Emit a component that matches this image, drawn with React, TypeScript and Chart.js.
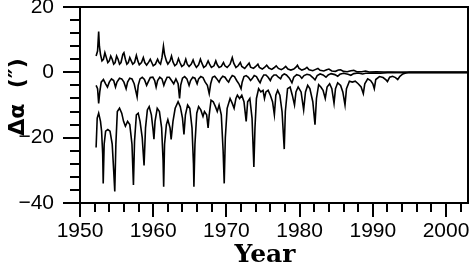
import React, { useEffect, useRef } from "react";
import { Chart, registerables } from "chart.js";

Chart.register(...registerables);

// [year, Δα in arcsec]
const topSeries: [number, number][] = [
  [1952.2, 5], [1952.4, 6.5], [1952.55, 12.5], [1952.65, 8], [1952.8, 5.5], [1953.0, 3.5], [1953.2, 4], [1953.4, 6],
  [1953.6, 4.5], [1953.8, 3], [1954.0, 3.5], [1954.2, 5], [1954.4, 4], [1954.6, 2.5], [1954.8, 3], [1955.0, 5],
  [1955.2, 4], [1955.4, 2.5], [1955.6, 3], [1955.85, 5.5], [1956.0, 6], [1956.2, 4], [1956.4, 2.5], [1956.6, 3],
  [1956.8, 4.5], [1957.0, 3.5], [1957.2, 2.5], [1957.45, 3], [1957.7, 5.2], [1957.9, 3.5], [1958.1, 2.3], [1958.4, 3],
  [1958.65, 4.5], [1958.85, 3], [1959.1, 2.2], [1959.4, 3.2], [1959.6, 4], [1959.8, 3], [1960.0, 2], [1960.3, 2.5],
  [1960.6, 4], [1960.8, 3], [1961.0, 2.5], [1961.2, 4.5], [1961.4, 8], [1961.55, 5.5], [1961.8, 3.5], [1962.0, 2.5],
  [1962.3, 3.5], [1962.5, 5], [1962.7, 3.2], [1962.95, 2], [1963.2, 2.5], [1963.45, 4.2], [1963.65, 3], [1963.9, 1.8],
  [1964.2, 2.3], [1964.45, 4], [1964.65, 2.5], [1964.9, 1.8], [1965.2, 2.5], [1965.45, 3.8], [1965.65, 2.5], [1965.9, 1.5],
  [1966.2, 2.3], [1966.45, 4], [1966.65, 2.8], [1966.9, 1.5], [1967.2, 2], [1967.5, 3.5], [1967.7, 2.5], [1967.95, 1.5],
  [1968.3, 2], [1968.55, 3.5], [1968.75, 2.3], [1969.0, 1.5], [1969.3, 1.8], [1969.6, 3], [1969.8, 2], [1970.1, 1.5],
  [1970.5, 2.5], [1970.8, 4.5], [1971.0, 2.8], [1971.3, 1.5], [1971.6, 2], [1971.9, 3], [1972.1, 1.8], [1972.5, 1.2],
  [1972.8, 2], [1973.1, 2.8], [1973.3, 1.6], [1973.7, 1.2], [1974.0, 1.8], [1974.3, 2.5], [1974.5, 1.5], [1974.9, 1],
  [1975.2, 1.5], [1975.5, 2.2], [1975.8, 1.3], [1976.2, 0.9], [1976.5, 1.4], [1976.8, 2], [1977.1, 1.2], [1977.5, 0.8],
  [1977.8, 1.2], [1978.1, 1.8], [1978.4, 1], [1978.8, 0.7], [1979.2, 1], [1979.5, 1.6], [1979.7, 2.2], [1979.9, 1.3],
  [1980.3, 0.7], [1980.7, 1], [1981.0, 1.5], [1981.3, 0.8], [1981.8, 0.5], [1982.2, 0.9], [1982.5, 1.2], [1982.8, 0.6],
  [1983.3, 0.4], [1983.7, 0.8], [1984.0, 1], [1984.4, 0.4], [1984.9, 0.3], [1985.3, 0.7], [1985.6, 0.8], [1986.0, 0.3],
  [1986.5, 0.2], [1987.0, 0.5], [1987.4, 0.6], [1987.8, 0.2], [1988.5, 0.2], [1989.0, 0.4], [1989.5, 0.1], [1990.5, 0.2],
  [1991.5, 0.1], [1992.5, 0.1], [1994.0, 0], [2003.0, 0],
];

const middleSeries: [number, number][] = [
  [1952.2, -4], [1952.4, -5], [1952.55, -9.5], [1952.7, -6], [1952.9, -3], [1953.2, -2.2], [1953.5, -3.5], [1953.75, -4.5],
  [1954.0, -3], [1954.3, -2], [1954.6, -2.5], [1954.85, -4.5], [1955.05, -3], [1955.4, -1.8], [1955.7, -2], [1956.0, -3],
  [1956.3, -5], [1956.5, -3], [1956.8, -1.8], [1957.1, -2], [1957.4, -3.5], [1957.65, -6], [1957.8, -7.5], [1957.95, -4],
  [1958.2, -2], [1958.5, -1.5], [1958.8, -2.2], [1959.1, -4], [1959.3, -3], [1959.6, -1.6], [1959.95, -1.5], [1960.2, -2.5],
  [1960.4, -4.5], [1960.6, -2.5], [1960.9, -1.5], [1961.2, -2], [1961.45, -4], [1961.6, -3], [1961.9, -1.5], [1962.2, -1.5],
  [1962.5, -2.5], [1962.8, -3.5], [1963.1, -2], [1963.4, -3.5], [1963.6, -8], [1963.75, -4], [1964.0, -1.8], [1964.3, -1.3],
  [1964.6, -2], [1964.9, -4], [1965.1, -2.5], [1965.4, -1.5], [1965.7, -1.8], [1966.0, -3.5], [1966.2, -2], [1966.5, -1.3],
  [1966.8, -1.6], [1967.1, -3], [1967.4, -4], [1967.65, -6.5], [1967.85, -3.5], [1968.1, -1.5], [1968.4, -1.2], [1968.7, -2],
  [1969.0, -3], [1969.2, -2], [1969.5, -1.2], [1969.8, -1.5], [1970.1, -2.5], [1970.3, -3], [1970.5, -2], [1970.8, -1],
  [1971.1, -1.3], [1971.4, -2.5], [1971.7, -3.5], [1972.0, -5], [1972.15, -3], [1972.4, -1.3], [1972.7, -1], [1973.0, -1.5],
  [1973.3, -2.5], [1973.5, -2], [1973.8, -1], [1974.1, -1.3], [1974.4, -2.5], [1974.6, -3.2], [1974.8, -2], [1975.1, -0.8],
  [1975.4, -0.8], [1975.7, -1.5], [1976.0, -2.5], [1976.2, -1.5], [1976.5, -0.8], [1976.8, -0.8], [1977.1, -1.5], [1977.4, -2],
  [1977.6, -1], [1977.9, -0.5], [1978.2, -0.8], [1978.6, -1.8], [1978.95, -3.2], [1979.2, -1.5], [1979.6, -0.7], [1980.0, -1],
  [1980.3, -1.8], [1980.6, -1], [1981.0, -0.6], [1981.4, -0.8], [1981.8, -1.6], [1982.1, -2.3], [1982.4, -1], [1982.8, -0.5],
  [1983.2, -0.8], [1983.6, -1.5], [1983.9, -0.8], [1984.3, -0.4], [1984.8, -0.7], [1985.2, -1.2], [1985.5, -0.6], [1986.0, -0.3],
  [1986.6, -0.6], [1987.0, -0.9], [1987.4, -0.4], [1988.0, -0.2], [1988.6, -0.5], [1989.0, -0.3], [1990.0, -0.2], [1991.0, -0.3],
  [1992.0, -0.1], [1993.0, -0.1], [1994.5, 0], [2003.0, 0],
];

const bottomSeries: [number, number][] = [
  [1952.2, -23], [1952.35, -14], [1952.55, -12.5], [1952.8, -15], [1952.95, -18], [1953.1, -25], [1953.17, -34], [1953.3, -22],
  [1953.5, -18], [1953.8, -17.5], [1954.1, -18], [1954.4, -22], [1954.6, -30], [1954.75, -36.5], [1954.9, -22], [1955.1, -12],
  [1955.4, -11], [1955.7, -12.5], [1955.95, -15], [1956.2, -16.5], [1956.5, -15], [1956.8, -16], [1957.1, -22], [1957.3, -34.5],
  [1957.45, -21], [1957.7, -13], [1957.95, -12.5], [1958.2, -15], [1958.5, -20], [1958.75, -28.5], [1958.95, -17], [1959.2, -11.5],
  [1959.45, -10.5], [1959.75, -13], [1960.0, -18], [1960.1, -20.5], [1960.25, -15], [1960.55, -11], [1960.85, -12], [1961.15, -17],
  [1961.35, -27], [1961.43, -35], [1961.55, -22], [1961.8, -16], [1962.0, -14.5], [1962.3, -17], [1962.45, -20.5], [1962.7, -15],
  [1963.0, -11], [1963.4, -9], [1963.7, -10.5], [1964.0, -14], [1964.2, -19], [1964.4, -13], [1964.7, -10], [1965.0, -11],
  [1965.3, -17], [1965.5, -28], [1965.56, -35], [1965.7, -22], [1965.95, -12.5], [1966.2, -10.5], [1966.5, -11.5], [1966.8, -13.5],
  [1967.0, -12], [1967.3, -13], [1967.5, -17], [1967.65, -13], [1967.9, -8.5], [1968.2, -9], [1968.5, -10.5], [1968.75, -12],
  [1969.0, -10], [1969.3, -13], [1969.55, -24], [1969.7, -34], [1969.85, -20], [1970.1, -11], [1970.5, -8], [1970.8, -9.5],
  [1971.05, -11], [1971.3, -8], [1971.5, -7], [1971.8, -8], [1972.1, -7], [1972.4, -9], [1972.7, -15], [1972.9, -9],
  [1973.2, -8], [1973.5, -14], [1973.75, -29], [1973.9, -17], [1974.1, -8], [1974.4, -5], [1974.7, -6], [1975.0, -5.5],
  [1975.2, -8], [1975.4, -6], [1975.7, -5.5], [1976.0, -7], [1976.3, -9], [1976.55, -13], [1976.75, -7], [1977.0, -5.5],
  [1977.3, -7], [1977.6, -12], [1977.9, -23.5], [1978.05, -12], [1978.35, -5], [1978.7, -4.5], [1979.0, -7], [1979.3, -10],
  [1979.5, -6], [1979.8, -4.5], [1980.2, -6], [1980.55, -11.5], [1980.8, -6], [1981.1, -4], [1981.4, -5], [1981.8, -9],
  [1982.1, -16], [1982.3, -8], [1982.6, -3.8], [1982.9, -4.5], [1983.2, -5.5], [1983.5, -8], [1983.75, -4.5], [1984.1, -3.5],
  [1984.4, -5], [1984.7, -9.5], [1984.9, -5], [1985.2, -3.2], [1985.6, -4], [1985.9, -6], [1986.2, -10], [1986.4, -5],
  [1986.8, -2.7], [1987.2, -3], [1987.6, -2.7], [1988.0, -3.5], [1988.4, -4.5], [1988.7, -6.5], [1988.9, -3.5], [1989.3, -2],
  [1989.7, -2.5], [1990.0, -3.5], [1990.2, -5], [1990.4, -2.2], [1990.9, -1.3], [1991.4, -1.6], [1991.8, -2.3], [1992.0, -2.8],
  [1992.3, -1.5], [1992.7, -1.2], [1993.1, -1.6], [1993.4, -2.2], [1993.7, -1.2], [1994.1, -0.5], [1994.5, -0.2], [1995.0, 0],
  [2003.0, 0],
];

const xTickValues = [1950, 1960, 1970, 1980, 1990, 2000];
const yTickValues = [-40, -20, 0, 20];
const xRange = [1950, 2003];
const yRange = [-40, 20];
const xTitle = "Year";
const yTitle = "Δα  (″)";

const toPoints = (s: [number, number][]) => s.map(([x, y]) => ({ x, y }));

const frameAndTicks = {
  id: "frameAndTicks",
  afterDraw(chart: any) {
    const { ctx, chartArea } = chart;
    const xs = chart.scales.x;
    const ys = chart.scales.y;
    ctx.save();
    ctx.strokeStyle = "#000";
    ctx.lineWidth = 2;
    ctx.strokeRect(chartArea.left, chartArea.top, chartArea.right - chartArea.left, chartArea.bottom - chartArea.top);
    for (let v = xRange[0]; v <= xRange[1]; v += 2) {
      const px = Math.round(xs.getPixelForValue(v));
      const len = v % 10 === 0 ? 14 : 9;
      ctx.beginPath();
      ctx.moveTo(px, chartArea.bottom);
      ctx.lineTo(px, chartArea.bottom + len);
      ctx.stroke();
    }
    for (let v = yRange[0]; v <= yRange[1]; v += 4) {
      const py = Math.round(ys.getPixelForValue(v));
      const len = v % 20 === 0 ? 17 : 10;
      ctx.beginPath();
      ctx.moveTo(chartArea.left, py);
      ctx.lineTo(chartArea.left - len, py);
      ctx.stroke();
    }
    ctx.fillStyle = "#000";
    ctx.textAlign = "center";
    ctx.textBaseline = "alphabetic";
    ctx.font = 'bold 25px "DejaVu Serif"';
    ctx.fillText(xTitle, 265, 262);
    ctx.translate(24, 97);
    ctx.rotate(-Math.PI / 2);
    ctx.font = 'bold 22px "DejaVu Sans"';
    ctx.fillText(yTitle, 0, 0);
    ctx.restore();
  },
};

export default function App() {
  const ref = useRef<HTMLCanvasElement | null>(null);
  useEffect(() => {
    if (!ref.current) return;
    const line = (data: [number, number][]) => ({
      data: toPoints(data),
      borderColor: "#000",
      borderWidth: 1.6,
      pointRadius: 0,
      fill: false,
      tension: 0,
    });
    const chart = new Chart(ref.current, {
      type: "line",
      data: { datasets: [line(topSeries), line(middleSeries), line(bottomSeries)] },
      options: {
        animation: false,
        responsive: false,
        devicePixelRatio: 1,
        layout: { padding: { top: 7, right: 3, left: 0, bottom: 0 } },
        plugins: { legend: { display: false }, tooltip: { enabled: false } },
        scales: {
          x: {
            type: "linear",
            min: xRange[0],
            max: xRange[1],
            afterBuildTicks: (s: any) => {
              s.ticks = xTickValues.map((v) => ({ value: v }));
            },
            afterFit: (s: any) => {
              s.height = 66;
              s.paddingLeft = 0;
              s.paddingRight = 0;
            },
            grid: { display: true, drawOnChartArea: false, drawTicks: true, tickLength: 10, color: "rgba(0,0,0,0)" },
            border: { display: false },
            ticks: {
              color: "#000",
              padding: 6,
              maxRotation: 0,
              autoSkip: false,
              font: { family: '"Liberation Sans", Arial, sans-serif', size: 21 },
              callback: (v: any) => String(v),
            },
          },
          y: {
            type: "linear",
            min: yRange[0],
            max: yRange[1],
            afterBuildTicks: (s: any) => {
              s.ticks = yTickValues.map((v) => ({ value: v }));
            },
            afterFit: (s: any) => {
              s.width = 80;
              s.paddingTop = 0;
              s.paddingBottom = 0;
            },
            grid: { display: true, drawOnChartArea: false, drawTicks: true, tickLength: 17, color: "rgba(0,0,0,0)" },
            border: { display: false },
            ticks: {
              color: "#000",
              padding: 9,
              autoSkip: false,
              font: { family: '"Liberation Sans", Arial, sans-serif', size: 21 },
              callback: (v: any) => (Number(v) < 0 ? "\u2212" + Math.abs(Number(v)) : String(v)),
            },
          },
        },
      },
      plugins: [frameAndTicks],
    });
    return () => chart.destroy();
  }, []);
  return (
    <canvas
      ref={ref}
      width={471}
      height={269}
      style={{ position: "absolute", left: 0, top: 0, width: 471, height: 269, display: "block", background: "#fff" }}
    />
  );
}
